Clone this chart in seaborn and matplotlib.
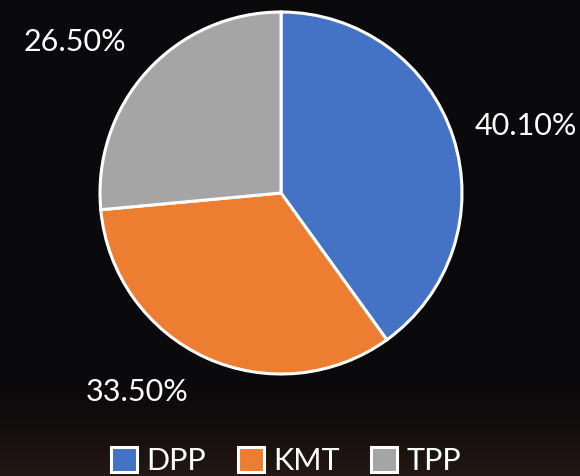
import numpy as np
import matplotlib
matplotlib.use("Agg")
import matplotlib.pyplot as plt
import seaborn as sns

# Data
parties = ["DPP", "KMT", "TPP"]
shares = [40.1, 33.5, 26.5]
colors = ["#4472C4", "#ED7D31", "#A5A5A5"]

sns.set_theme(style="dark")
plt.rcParams["font.family"] = ["Lato", "DejaVu Sans"]

fig = plt.figure(figsize=(5.8, 4.76), dpi=100)
fig.patch.set_facecolor("#0a090b")

# dark background with a faint warm glow at the bottom
bg = fig.add_axes([0, 0, 1, 1], zorder=-10)
h, w = 200, 200
yy, xx = np.mgrid[0:h, 0:w]
t = np.clip((yy / h - 0.78) / 0.22, 0, 1) ** 1.5
top = np.array([10, 9, 11]) / 255
bot = np.array([36, 24, 21]) / 255
img = top[None, None, :] * (1 - t[..., None]) + bot[None, None, :] * t[..., None]
bg.imshow(img, aspect="auto", extent=[0, 1, 0, 1])
bg.axis("off")

# pie axes: centre (281,193) px, radius 181 px
R = 181
ax = fig.add_axes([(281 - R) / 580, (476 - 193 - R) / 476, 2 * R / 580, 2 * R / 476])
ax.set_facecolor("none")
wedges, _, autotexts = ax.pie(
    shares, colors=colors, startangle=90, counterclock=False,
    autopct="%.2f%%", pctdistance=1.38,
    wedgeprops=dict(edgecolor="white", linewidth=2.2),
    textprops=dict(color="white", fontsize=22),
)
ax.set_xlim(-1, 1)
ax.set_ylim(-1, 1)
ax.axis("off")

# move the labels to where they sit in the reference
label_pos = [(15.3, 1.40), (-125.9, 1.36), (143.8, 1.41)]
for txt, val, (ang, dist) in zip(autotexts, shares, label_pos):
    a = np.deg2rad(ang)
    txt.set_position((dist * np.cos(a), dist * np.sin(a)))
    txt.set_text(f"{val:.2f}%")
    txt.set_clip_on(False)

fig.legend(
    wedges, parties, loc="center", bbox_to_anchor=(286 / 580, 1 - 461 / 476),
    ncol=3, frameon=False, labelcolor="white",
    prop=dict(family=["Lato", "DejaVu Sans"], size=22),
    handlelength=0.85, handleheight=0.85, handletextpad=0.3, columnspacing=1.05,
)

fig.savefig("out.png", dpi=100, facecolor=fig.get_facecolor())
